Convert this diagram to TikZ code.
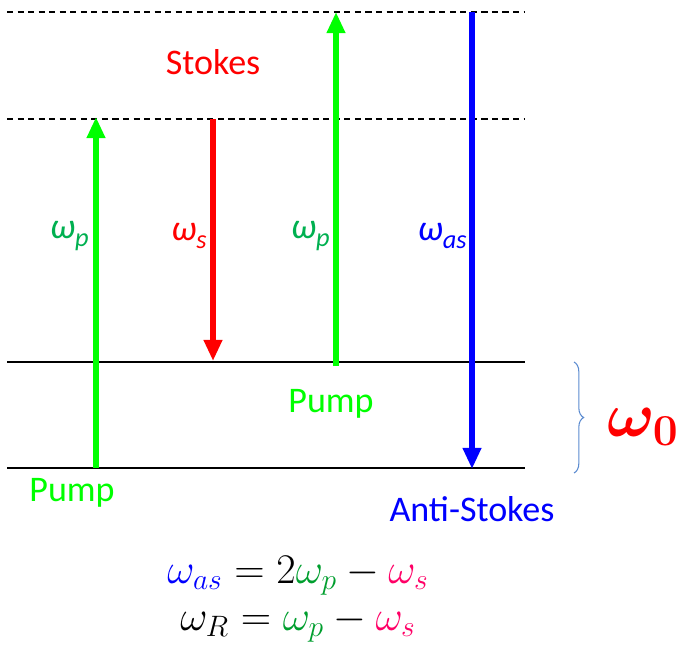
\RequirePackage{fix-cm}
\documentclass[tikz,border=0pt]{standalone}
\usepackage{amsmath,bm}
\usepackage{fontspec}
\setmainfont{Carlito}
\usetikzlibrary{arrows.meta,positioning,decorations.pathreplacing}
\definecolor{pumpgreen}{HTML}{00FF00}
\definecolor{labelgreen}{HTML}{00B050}
\definecolor{eqgreen}{HTML}{009E2E}
\definecolor{eqpink}{HTML}{FF0066}
\definecolor{bracecol}{HTML}{5B8BD0}
\newcommand{\wsub}[1]{\textit{ω}\raisebox{-0.45ex}{\fontsize{15}{17}\selectfont\textit{#1}}}

\begin{document}
\begin{tikzpicture}[
  x=0.02cm, y=-0.02cm,
  level/.style={line width=0.6pt, black},
  virtual/.style={line width=0.6pt, black, dash pattern=on 3.5pt off 2.5pt},
  beam/.style={line width=3.3pt, -{Triangle[length=12pt, width=10pt]}},
  lbl/.style={font=\fontsize{20.5}{24}\selectfont, inner sep=0pt},
  eq/.style={font=\fontsize{24}{28}\selectfont, inner sep=0pt},
]
  \useasboundingbox (0,0) rectangle (679,649);

  % energy levels
  \coordinate (topL) at (7,12);    \coordinate (topR) at (525,12);
  \coordinate (virtL) at (7,119);  \coordinate (virtR) at (525,119);
  \coordinate (midL) at (7,362);   \coordinate (midR) at (525,362);
  \coordinate (gndL) at (7,468);   \coordinate (gndR) at (525,468);
  \draw[virtual] (topL) -- (topR);
  \draw[virtual] (virtL) -- (virtR);
  \draw[level] (midL) -- (midR);
  \draw[level] (gndL) -- (gndR);

  % transitions
  \coordinate (p1a) at (96,468);  \coordinate (p1b) at (96,117);
  \coordinate (s1a) at (213,119); \coordinate (s1b) at (213,361);
  \coordinate (p2a) at (336,366); \coordinate (p2b) at (336,12);
  \coordinate (as1a) at (472,12); \coordinate (as1b) at (472,469);
  \draw[beam, pumpgreen] (p1a) -- (p1b);
  \draw[beam, red] (s1a) -- (s1b);
  \draw[beam, pumpgreen] (p2a) -- (p2b);
  \draw[beam, blue] (as1a) -- (as1b);

  % labels
  \node[lbl, text=labelgreen, anchor=east] (wp1) at (89,236) {\wsub{p}};
  \node[lbl, text=red, anchor=east] (ws1) at (207,236) {\wsub{s}};
  \node[lbl, text=labelgreen, anchor=east] (wp2) at (330,236) {\wsub{p}};
  \node[lbl, text=blue, anchor=east] (was1) at (467,236) {\wsub{as}};

  \node[lbl, text=red] (stokes) at (213,62) {Stokes};
  \node[lbl, text=pumpgreen] (pump2) at (331,404) {Pump};
  \node[lbl, text=pumpgreen] (pump1) at (72,493) {Pump};
  \node[lbl, text=blue] (astokes) at (472,509) {Anti-Stokes};

  % vibrational spacing
  \coordinate (brT) at (574,362);
  \coordinate (brB) at (574,473);
  \draw[bracecol, line width=0.6pt, decorate, decoration={brace, amplitude=5.5pt}] (brT) -- (brB);
  \node[text=red, inner sep=0pt, font=\fontsize{36}{42}\selectfont] (w0) at (643,427) {$\bm{\omega_0}$};

  % relations
  \node[eq] (eq1) at (298,576) {$\textcolor{blue}{\omega_{as}} = 2\textcolor{eqgreen}{\omega_p} - \textcolor{eqpink}{\omega_s}$};
  \node[eq] (eq2) at (298,624) {$\omega_R = \textcolor{eqgreen}{\omega_p} - \textcolor{eqpink}{\omega_s}$};
\end{tikzpicture}
\end{document}
